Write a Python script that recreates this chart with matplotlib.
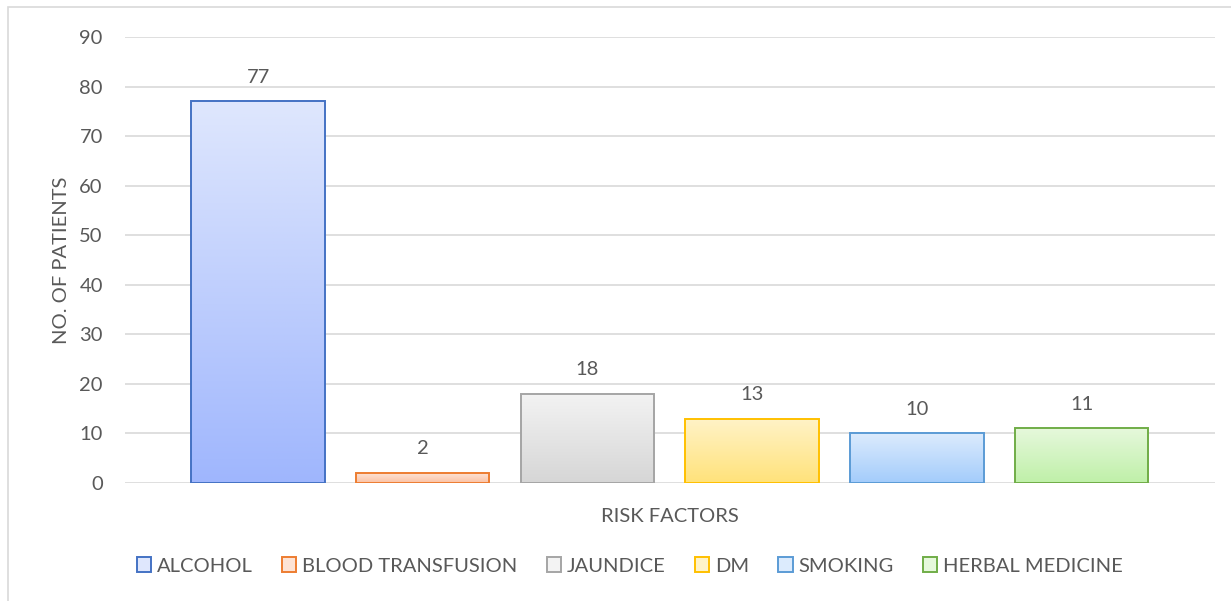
import numpy as np
import matplotlib.pyplot as plt
from matplotlib.patches import Patch, Rectangle
from matplotlib.colors import LinearSegmentedColormap

categories = ["ALCOHOL", "BLOOD TRANSFUSION", "JAUNDICE", "DM", "SMOKING", "HERBAL MEDICINE"]
patients = [77, 2, 18, 13, 10, 11]
edge_colors = ["#4472c4", "#ed7d31", "#a5a5a5", "#ffc000", "#5b9bd5", "#70ad47"]
top_colors = ["#dfe7fd", "#fde3d5", "#f3f3f3", "#fff3c8", "#dcebfd", "#e6f8dc"]
bottom_colors = ["#9fb6fd", "#fbc1a3", "#d6d6d6", "#ffe27a", "#a3ccfb", "#bff0a8"]

plt.rcParams['font.family'] = ['Lato', 'DejaVu Sans']
text_color = "#595959"

fig = plt.figure(figsize=(12.31, 6.01), dpi=100)
ax = fig.add_axes([125 / 1231, 118 / 601, 1090 / 1231, 446 / 601])

# chart area border
fig.patches.append(Rectangle((8 / 1231, -0.01), 1.1, 1 - 7 / 601 + 0.01, transform=fig.transFigure,
                             fill=False, edgecolor="#d9d9d9", linewidth=1.2))

x = np.arange(len(categories))
width = 0.81
bars = ax.bar(x, patients, width=width, color="none", edgecolor=edge_colors, linewidth=1.4, zorder=3)

# gradient fill (light top, darker bottom) clipped to each bar
grad = np.linspace(0, 1, 256).reshape(-1, 1)
for bar, top, bot in zip(bars, top_colors, bottom_colors):
    cmap = LinearSegmentedColormap.from_list("g", [bot, top])
    bx, by = bar.get_x(), bar.get_y()
    bw, bh = bar.get_width(), bar.get_height()
    im = ax.imshow(grad, cmap=cmap, aspect="auto", origin="lower",
                   extent=[bx, bx + bw, by, by + bh], zorder=2)
    im.set_clip_path(bar)

for xi, v in zip(x, patients):
    ax.text(xi, v + 3.2, str(v), ha="center", va="bottom", fontsize=14.5, color=text_color)

ax.set_xlim(-0.808, 5.81)
ax.set_ylim(0, 90)
ax.set_yticks(range(0, 91, 10))
ax.set_xticks([])
ax.grid(axis="y", color="#d9d9d9", linewidth=1.2, zorder=0)
ax.tick_params(axis="y", length=0, pad=16, labelsize=14.5, labelcolor=text_color)
for s in ax.spines.values():
    s.set_visible(False)

ax.set_ylabel("NO. OF PATIENTS", fontsize=14.5, color=text_color, labelpad=7)
ax.set_xlabel("RISK FACTORS", fontsize=14.5, color=text_color, labelpad=18)

handles = [Patch(facecolor=c, edgecolor=e, linewidth=1.4) for c, e in zip(top_colors, edge_colors)]
fig.legend(handles, categories, loc="center", bbox_to_anchor=(630 / 1231, 1 - 566 / 601), ncol=6,
           frameon=False, fontsize=14.5, labelcolor=text_color, handlelength=0.7, handleheight=0.7,
           handletextpad=0.3, columnspacing=1.45)

fig.savefig("out.png", dpi=100, facecolor="white")
